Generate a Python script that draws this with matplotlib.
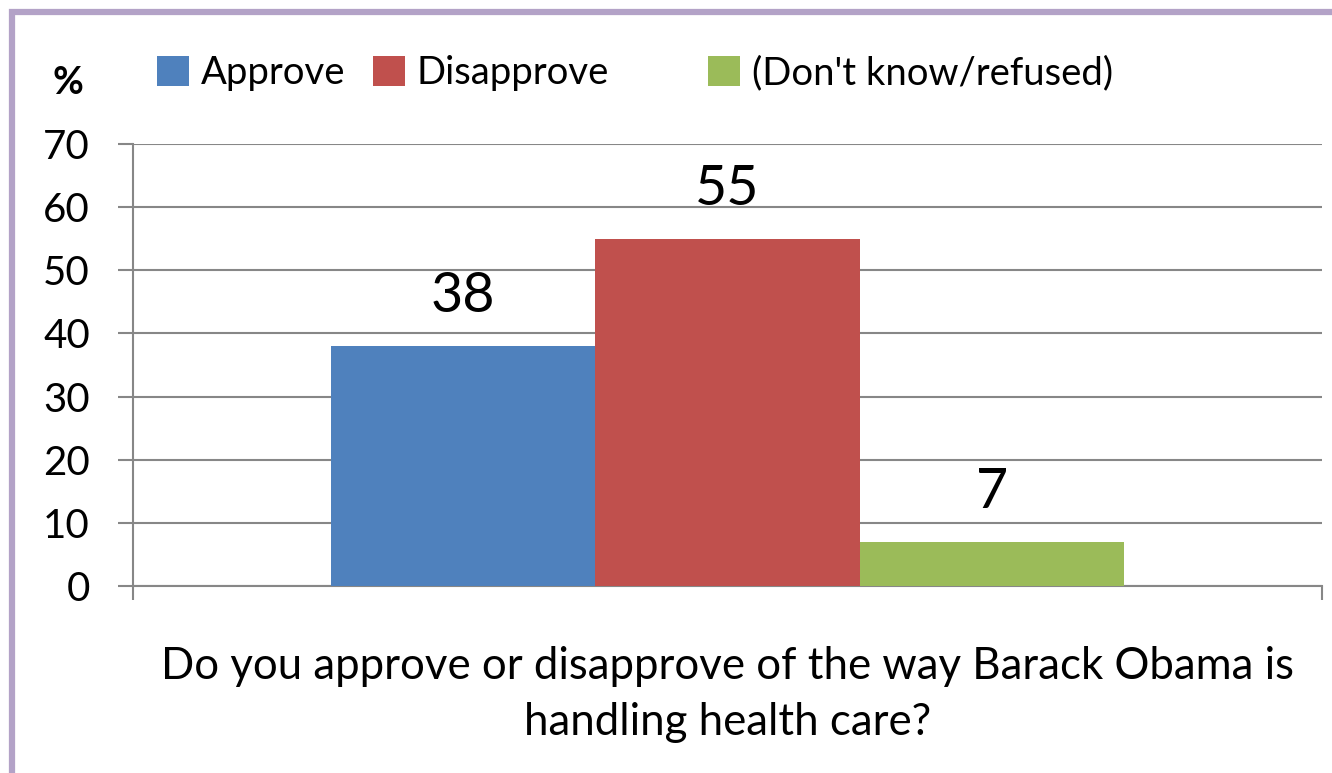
import matplotlib
matplotlib.use("Agg")
import matplotlib.pyplot as plt
from matplotlib.patches import Rectangle, Patch
import numpy as np

plt.rcParams['font.family'] = ['Lato', 'DejaVu Sans']

series = ["Approve", "Disapprove", "(Don't know/refused)"]
values = [38, 55, 7]
colors = ["#4F81BD", "#C0504D", "#9BBB59"]
yticks = [0, 10, 20, 30, 40, 50, 60, 70]
question = "Do you approve or disapprove of the way Barack Obama is\nhandling health care?"

W, H = 1332, 773
fig = plt.figure(figsize=(W / 100, H / 100), dpi=100)
ax = fig.add_axes([133 / W, 187 / H, (1322 - 133) / W, (586 - 144) / H])

grid_c = "#878787"
bar_w = 1 / 4.5
offsets = (np.arange(3) - 1) * bar_w
for off, v, c, s in zip(offsets, values, colors, series):
    ax.bar(off, v, width=bar_w, color=c, label=s, zorder=3)
    ax.text(off, v + 3.8, str(v), ha="center", va="bottom", fontsize=40, color="black")

ax.set_xlim(-0.5, 0.5)
ax.set_ylim(0, 70)
ax.set_yticks(yticks)
ax.set_yticklabels([str(t) for t in yticks])
ax.set_xticks([-0.5, 0.5])
ax.set_xticklabels(["", ""])
ax.grid(axis="y", color=grid_c, linewidth=1.5, zorder=0)
ax.tick_params(axis="y", length=11, width=1.5, color=grid_c, labelsize=29, pad=20)
ax.tick_params(axis="x", length=10, width=1.5, color=grid_c)
for sp in ["top", "right"]:
    ax.spines[sp].set_visible(False)
for sp in ["left", "bottom"]:
    ax.spines[sp].set_color(grid_c)
    ax.spines[sp].set_linewidth(1.5)

ax.set_xlabel(question, fontsize=31.5, linespacing=1.43, labelpad=30)

fig.text(68 / W, 1 - 83 / H, "%", fontsize=27, fontweight="bold", ha="center", va="center")

legend_x = [157, 373, 708]
for x, c, s in zip(legend_x, colors, series):
    fig.legend([Patch(facecolor=c, edgecolor="none")], [s], loc="center left",
               bbox_to_anchor=(x / W, 1 - 73 / H), frameon=False, fontsize=27.5,
               handlelength=0.85, handleheight=0.85, handletextpad=0.3,
               borderaxespad=0, borderpad=0)

border = Rectangle((11.5 / W, -0.1), 2, 1 - 12 / H + 0.1, transform=fig.transFigure,
                   fill=False, edgecolor="#B3A2C7", linewidth=4.5, clip_on=False)
fig.add_artist(border)

fig.savefig("out.png", dpi=100)
